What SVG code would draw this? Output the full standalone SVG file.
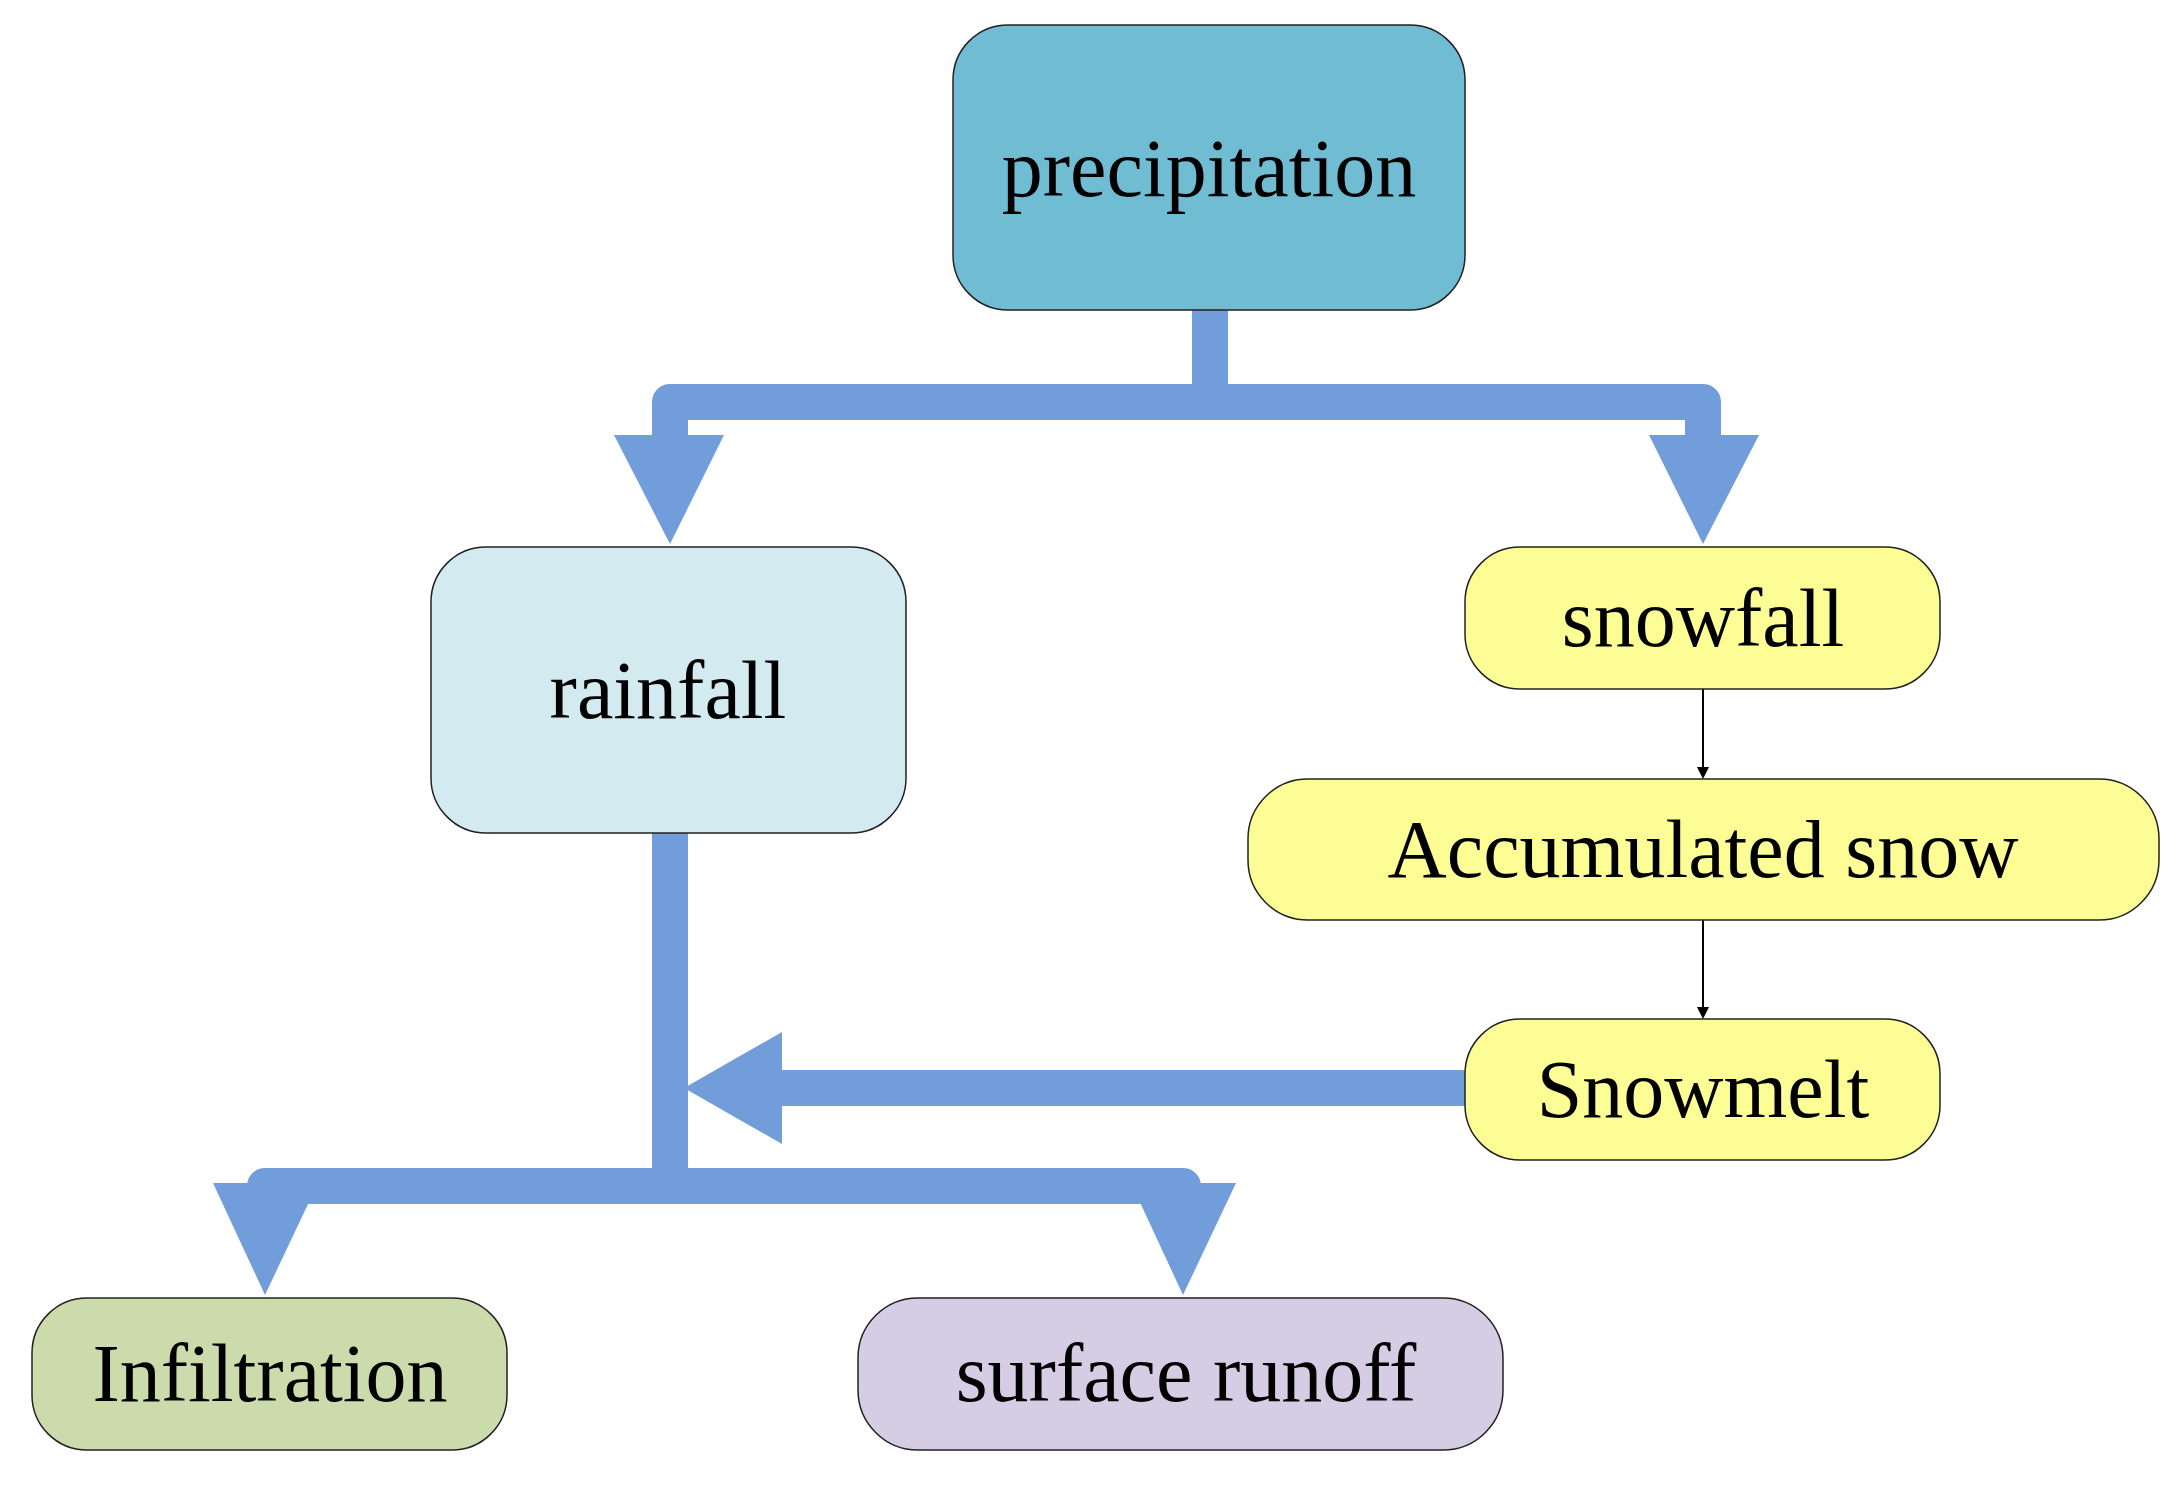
<svg xmlns="http://www.w3.org/2000/svg" width="2180" height="1500" viewBox="0 0 2180 1500">
<style>
.n{stroke:#222;stroke-width:1.5}
.t{font-family:"Liberation Serif","Times New Roman",serif;font-size:82px;fill:#000;text-anchor:middle;dominant-baseline:central}
.b{stroke:#729ddb;stroke-width:36;fill:none;stroke-linecap:round;stroke-linejoin:round}
.h{fill:#729ddb}
.k{stroke:#000;stroke-width:2;fill:none}
</style>
<defs><marker id="a" markerWidth="12" markerHeight="12" refX="10" refY="6" orient="auto" markerUnits="userSpaceOnUse"><path d="M0,0L12,6L0,12z" fill="#000"/></marker></defs>
<rect width="2180" height="1500" fill="#fff"/>
<g id="connectors">
<path class="b" d="M1210,300V402M670,440V402H1703V440"/>
<polygon class="h" points="614,435 724,435 670,544"/>
<polygon class="h" points="1649,435 1759,435 1703,544"/>
<path class="b" d="M670,826V1186M265,1225V1186H1183V1225"/>
<polygon class="h" points="213,1183 318,1183 265,1295"/>
<polygon class="h" points="1131,1183 1236,1183 1183,1295"/>
<path class="b" d="M1472,1088H760"/>
<polygon class="h" points="684,1088 782,1032 782,1144"/>
<path class="k" d="M1703,689V777" marker-end="url(#a)"/>
<path class="k" d="M1703,920V1017" marker-end="url(#a)"/>
</g>
<g id="precipitation"><rect class="n" x="953" y="25" width="512" height="285" rx="55" fill="#70bdd3"/><text class="t" x="1209" y="168" font-size="86">precipitation</text></g>
<g id="rainfall"><rect class="n" x="431" y="547" width="475" height="286" rx="55" fill="#d3ebf0"/><text class="t" x="668" y="690">rainfall</text></g>
<g id="snowfall"><rect class="n" x="1465" y="547" width="475" height="142" rx="55" fill="#fdfd95"/><text class="t" x="1703" y="618">snowfall</text></g>
<g id="accumulated"><rect class="n" x="1248" y="779" width="911" height="141" rx="60" fill="#fdfd95"/><text class="t" x="1703" y="849">Accumulated snow</text></g>
<g id="snowmelt"><rect class="n" x="1465" y="1019" width="475" height="141" rx="55" fill="#fdfd95"/><text class="t" x="1703" y="1089">Snowmelt</text></g>
<g id="infiltration"><rect class="n" x="32" y="1298" width="475" height="152" rx="55" fill="#ccdbab"/><text class="t" x="270" y="1373">Infiltration</text></g>
<g id="runoff"><rect class="n" x="858" y="1298" width="645" height="152" rx="60" fill="#d5cde3"/><text class="t" x="1186" y="1373">surface runoff</text></g>
</svg>
